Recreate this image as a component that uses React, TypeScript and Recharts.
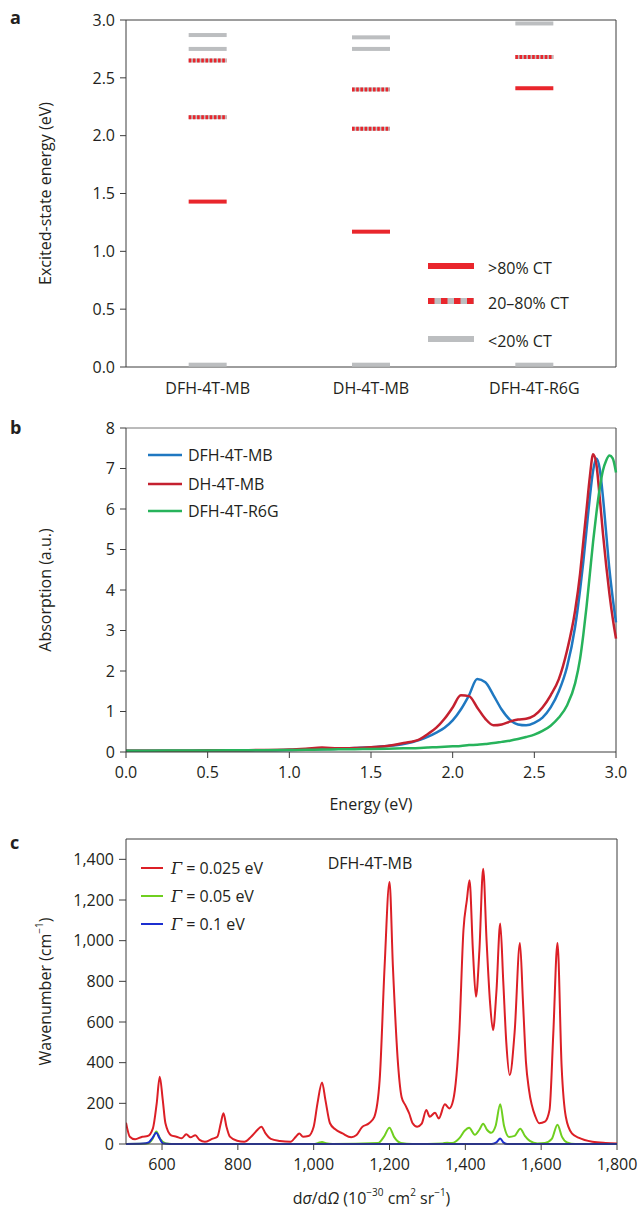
import React from "react";
import {
  ScatterChart,
  Scatter,
  LineChart,
  Line,
  XAxis,
  YAxis,
  ReferenceLine,
  Legend,
} from "recharts";

const FONT = "'Open Sans', 'DejaVu Sans', sans-serif";
const INK = "#231f20";
const AXIS = "#3c3c3c";

// ---- panel a: excited-state levels ----
const compounds = ["DFH-4T-MB", "DH-4T-MB", "DFH-4T-R6G"];
const highCT = [[1.43], [1.17], [2.41]];
const midCT = [[2.16, 2.65], [2.06, 2.4], [2.68]];
const lowCT = [[0.02, 2.75, 2.87], [0.02, 2.75, 2.85], [0.02, 2.97]];
const levelTicks = [0, 0.5, 1.0, 1.5, 2.0, 2.5, 3.0];
const ctLabels = [">80% CT", "20\u201380% CT", "<20% CT"];

const CT_RED = "#e9262c";
const CT_GREY = "#bcbec0";

// ---- panel b: absorption ----
const energy = [
  0, 0.25, 0.5, 0.75, 1.0, 1.1, 1.2, 1.3, 1.4, 1.5, 1.6, 1.7, 1.8, 1.85, 1.9,
  1.95, 2.0, 2.05, 2.1, 2.15, 2.2, 2.25, 2.3, 2.35, 2.4, 2.45, 2.5, 2.55, 2.6,
  2.65, 2.7, 2.75, 2.78, 2.8, 2.82, 2.84, 2.86, 2.88, 2.9, 2.92, 2.94, 2.96,
  2.98, 3.0,
];
const absDFH = [
  0.03, 0.03, 0.035, 0.04, 0.05, 0.06, 0.07, 0.08, 0.1, 0.12, 0.15, 0.2, 0.3,
  0.38, 0.48, 0.6, 0.78, 1.05, 1.4, 1.8, 1.72, 1.4, 1.05, 0.8, 0.68, 0.66,
  0.72, 0.85, 1.1, 1.5, 2.1, 3.1, 4.0, 4.7, 5.5, 6.3, 6.95, 7.25, 7.0, 6.3,
  5.4, 4.5, 3.8, 3.2,
];
const absDH = [
  0.03, 0.03, 0.035, 0.045, 0.06, 0.08, 0.11, 0.09, 0.1, 0.12, 0.15, 0.22,
  0.32, 0.45, 0.6, 0.82, 1.1, 1.4, 1.38, 1.1, 0.82, 0.66, 0.68, 0.75, 0.8,
  0.82, 0.9, 1.1, 1.4, 1.8, 2.5, 3.5, 4.4, 5.2, 6.0, 6.8, 7.35, 7.1, 6.3, 5.4,
  4.6, 3.9, 3.3, 2.8,
];
const absR6G = [
  0.03, 0.035, 0.04, 0.045, 0.05, 0.055, 0.06, 0.065, 0.07, 0.075, 0.08, 0.09,
  0.1, 0.11, 0.12, 0.13, 0.14, 0.15, 0.17, 0.18, 0.2, 0.22, 0.25, 0.28, 0.32,
  0.37, 0.43, 0.52, 0.65, 0.85, 1.15, 1.7, 2.3, 2.9, 3.6, 4.4, 5.2, 5.9, 6.5,
  6.95, 7.2, 7.32, 7.25, 6.9,
];
const absNames = ["DFH-4T-MB", "DH-4T-MB", "DFH-4T-R6G"];
const absColors = ["#1f78c1", "#c4202f", "#27b35b"];

// ---- panel c: Raman ----
const wnRed = [
  505, 515, 529, 548, 562, 576, 586, 594, 602, 609, 624, 638, 652, 664, 675,
  688, 699, 713, 732, 746, 755, 762, 770, 779, 798, 817, 835, 850, 862, 873,
  887, 911, 939, 953, 962, 972, 986, 1000, 1010, 1022, 1031, 1043, 1057, 1076,
  1099, 1113, 1127, 1146, 1160, 1174, 1187, 1200, 1209, 1223, 1232, 1242,
  1252, 1261, 1273, 1285, 1297, 1306, 1320, 1330, 1346, 1358, 1368, 1384,
  1395, 1404, 1411, 1420, 1428, 1437, 1447, 1456, 1465, 1473, 1482, 1492,
  1500, 1508, 1517, 1530, 1544, 1552, 1560, 1568, 1585, 1595, 1610, 1622,
  1632, 1643, 1654, 1665, 1681, 1700, 1735, 1770, 1800,
];
const ramanRed = [
  105, 36, 23, 36, 39, 77, 200, 331, 216, 102, 43, 36, 28, 48, 33, 43, 20, 11,
  25, 36, 102, 151, 85, 36, 16, 11, 36, 66, 85, 52, 25, 15, 11, 36, 52, 36, 39,
  85, 200, 303, 216, 102, 72, 52, 33, 44, 82, 102, 134, 314, 871, 1289, 871,
  380, 230, 190, 150, 102, 85, 100, 167, 134, 154, 126, 195, 175, 216, 544,
  1051, 1199, 1297, 950, 724, 950, 1354, 1000, 700, 560, 750, 1084, 800, 500,
  339, 550, 989, 700, 400, 265, 134, 102, 110, 167, 544, 989, 380, 134, 52, 30,
  11, 5, 3,
];
const wnGreen = [
  505, 560, 575, 585, 595, 610, 640, 1000, 1012, 1022, 1032, 1050, 1170, 1185,
  1200, 1212, 1230, 1260, 1340, 1352, 1365, 1385, 1398, 1410, 1425, 1437,
  1447, 1457, 1468, 1480, 1492, 1502, 1515, 1530, 1545, 1557, 1570, 1590,
  1610, 1628, 1643, 1655, 1668, 1690, 1800,
];
const ramanGreen = [
  0, 2, 25, 62, 25, 3, 0, 0, 5, 10, 4, 0, 5, 35, 80, 35, 5, 0, 3, 6, 5, 30, 65,
  80, 45, 70, 100, 70, 55, 90, 195, 90, 35, 40, 75, 40, 15, 3, 5, 25, 95, 35,
  8, 0, 0,
];
const wnBlue = [505, 550, 565, 575, 585, 593, 603, 620, 1470, 1482, 1492, 1500, 1510, 1800];
const ramanBlue = [0, 2, 8, 30, 55, 30, 2, 0, 0, 8, 27, 8, 0, 0];
const gammaLabels = ["0.025 eV", "0.05 eV", "0.1 eV"];
const gammaColors = ["#dc1f26", "#6fcf1f", "#1c2fd0"];
const ramanXTicks = [600, 800, 1000, 1200, 1400, 1600, 1800];
const ramanYTicks = [0, 200, 400, 600, 800, 1000, 1200, 1400];

const toPoints = (levels: number[][]) =>
  levels.flatMap((ys, i) => ys.map((y) => ({ x: i + 0.5, y })));
const zip = (xs: number[], ys: number[]) => xs.map((x, i) => ({ x, y: ys[i] }));

const absData = energy.map((e, i) => ({
  e,
  dfh: absDFH[i],
  dh: absDH[i],
  r6g: absR6G[i],
}));

const tickStyle = { fontSize: 16, fill: INK, fontFamily: FONT };
const LEVEL_W = 38;

const solidLevel = (color: string) => (p: any) =>
  <rect x={p.cx - LEVEL_W / 2} y={p.cy - 2} width={LEVEL_W} height={4} fill={color} />;

const mixedLevel = (p: any) => (
  <g>
    <rect x={p.cx - LEVEL_W / 2} y={p.cy - 2} width={LEVEL_W} height={4} fill={CT_GREY} />
    <line
      x1={p.cx - LEVEL_W / 2}
      x2={p.cx + LEVEL_W / 2}
      y1={p.cy}
      y2={p.cy}
      stroke={CT_RED}
      strokeWidth={4}
      strokeDasharray="2.6 1.6"
    />
  </g>
);

function YTitle(props: any) {
  const vb = props.viewBox || { y: 0, height: 0 };
  const cy = vb.y + vb.height / 2;
  return (
    <text
      x={45}
      y={cy}
      transform={`rotate(-90 45 ${cy})`}
      textAnchor="middle"
      dominantBaseline="central"
      fontSize={16}
      fill={INK}
      fontFamily={FONT}
    >
      {props.children}
    </text>
  );
}

function XTitle(props: any) {
  const vb = props.viewBox || { x: 0, width: 0, y: 0 };
  const cx = vb.x + vb.width / 2;
  return (
    <text
      x={cx}
      y={vb.y + props.dyTitle}
      textAnchor="middle"
      dominantBaseline="central"
      fontSize={16}
      fill={INK}
      fontFamily={FONT}
    >
      {props.children}
    </text>
  );
}

function CtLegend() {
  const rows = [0, 1, 2];
  const ys = [11, 46, 84];
  return (
    <svg width={200} height={100} style={{ overflow: "visible" }}>
      {rows.map((i) => (
        <g key={i}>
          {i === 1 ? (
            <>
              <rect x={8} y={ys[i] - 3} width={46} height={6} fill={CT_GREY} />
              <line x1={8} x2={54} y1={ys[i]} y2={ys[i]} stroke={CT_RED} strokeWidth={6} strokeDasharray="6.5 6.5" />
            </>
          ) : (
            <rect x={8} y={ys[i] - 3} width={46} height={6} fill={i === 0 ? CT_RED : CT_GREY} />
          )}
          <text x={68} y={ys[i] + 2} dominantBaseline="central" fontSize={16} fill={INK} fontFamily={FONT}>
            {ctLabels[i]}
          </text>
        </g>
      ))}
    </svg>
  );
}

function AbsLegend() {
  const ys = [15, 44, 71];
  return (
    <svg width={200} height={90}>
      {absNames.map((n, i) => (
        <g key={n}>
          <line x1={8} x2={42} y1={ys[i]} y2={ys[i]} stroke={absColors[i]} strokeWidth={2.5} />
          <text x={48} y={ys[i]} dominantBaseline="central" fontSize={16} fill={INK} fontFamily={FONT}>
            {n}
          </text>
        </g>
      ))}
    </svg>
  );
}

function RamanLegend() {
  const ys = [18, 46, 74];
  return (
    <svg width={320} height={90}>
      {gammaLabels.map((g, i) => (
        <g key={g}>
          <line x1={11} x2={33} y1={ys[i]} y2={ys[i]} stroke={gammaColors[i]} strokeWidth={2} />
          <text x={41} y={ys[i]} dominantBaseline="central" fontSize={16} fill={INK} fontFamily={FONT}>
            <tspan fontStyle="italic" fontFamily="'DejaVu Serif', serif">Γ</tspan> = {g}
          </text>
        </g>
      ))}
      <text x={240} y={13} textAnchor="middle" dominantBaseline="central" fontSize={16} fill={INK} fontFamily={FONT}>
        DFH-4T-MB
      </text>
    </svg>
  );
}

const panelLetter = (t: string, top: number) => (
  <div
    style={{
      position: "absolute",
      left: 10,
      top,
      fontFamily: FONT,
      fontWeight: 700,
      fontSize: 18,
      color: INK,
      lineHeight: "20px",
    }}
  >
    {t}
  </div>
);

export default function App() {
  return (
    <div style={{ position: "absolute", left: 0, top: 0, width: 640, height: 1211, background: "#fff" }}>
      {panelLetter("a", 7)}
      {panelLetter("b", 417)}
      {panelLetter("c", 832)}

      <div style={{ position: "absolute", left: 0, top: 0 }}>
        <ScatterChart width={640} height={410} margin={{ top: 20, right: 24, left: 0, bottom: 0 }}>
          <XAxis
            type="number"
            dataKey="x"
            domain={[0, 3]}
            ticks={[0.5, 1.5, 2.5]}
            tickFormatter={(v: number) => compounds[Math.floor(v)]}
            tickLine={false}
            tickSize={6}
            tickMargin={10}
            height={43}
            stroke={AXIS}
            tick={tickStyle}
          />
          <YAxis
            type="number"
            dataKey="y"
            domain={[0, 3]}
            ticks={levelTicks}
            tickFormatter={(v: number) => v.toFixed(1)}
            width={126}
            tickSize={6}
            tickMargin={5}
            stroke={AXIS}
            tick={tickStyle}
            label={<YTitle>Excited-state energy (eV)</YTitle>}
          />
          <ReferenceLine y={3} stroke={AXIS} />
          <ReferenceLine x={3} stroke={AXIS} />
          <Scatter data={toPoints(lowCT)} shape={solidLevel(CT_GREY)} isAnimationActive={false} />
          <Scatter data={toPoints(midCT)} shape={mixedLevel} isAnimationActive={false} />
          <Scatter data={toPoints(highCT)} shape={solidLevel(CT_RED)} isAnimationActive={false} />
          <Legend
            layout="vertical"
            align="center"
            verticalAlign="middle"
            content={<CtLegend />}
            wrapperStyle={{ left: 420, top: 255, width: 200, height: 100 }}
          />
        </ScatterChart>
      </div>

      <div style={{ position: "absolute", left: 0, top: 410 }}>
        <LineChart width={640} height={410} data={absData} margin={{ top: 18, right: 24, left: 0, bottom: 0 }}>
          <XAxis
            type="number"
            dataKey="e"
            domain={[0, 3]}
            ticks={[0, 0.5, 1, 1.5, 2, 2.5, 3]}
            tickFormatter={(v: number) => v.toFixed(1)}
            tickSize={6}
            tickMargin={9}
            height={68}
            stroke={AXIS}
            tick={tickStyle}
            label={<XTitle dyTitle={52}>Energy (eV)</XTitle>}
          />
          <YAxis
            type="number"
            domain={[0, 8]}
            ticks={[0, 1, 2, 3, 4, 5, 6, 7, 8]}
            width={126}
            tickSize={6}
            tickMargin={5}
            stroke={AXIS}
            tick={tickStyle}
            label={<YTitle>Absorption (a.u.)</YTitle>}
          />
          <ReferenceLine y={8} stroke="#777" />
          <ReferenceLine x={3} stroke={AXIS} />
          <Line dataKey="dfh" type="monotone" stroke={absColors[0]} strokeWidth={2.5} dot={false} isAnimationActive={false} />
          <Line dataKey="dh" type="monotone" stroke={absColors[1]} strokeWidth={2.5} dot={false} isAnimationActive={false} />
          <Line dataKey="r6g" type="monotone" stroke={absColors[2]} strokeWidth={2.5} dot={false} isAnimationActive={false} />
          <Legend
            layout="vertical"
            align="center"
            verticalAlign="middle"
            content={<AbsLegend />}
            wrapperStyle={{ left: 140, top: 30, width: 200, height: 90 }}
          />
        </LineChart>
      </div>

      <div style={{ position: "absolute", left: 0, top: 820 }}>
        <LineChart width={640} height={391} margin={{ top: 19, right: 23, left: 0, bottom: 0 }}>
          <XAxis
            type="number"
            dataKey="x"
            domain={[505, 1800]}
            ticks={ramanXTicks}
            tickFormatter={(v: number) => v.toLocaleString("en-US")}
            allowDataOverflow
            tickSize={6}
            tickMargin={9}
            height={67}
            stroke={AXIS}
            tick={tickStyle}
            label={
              <XTitle dyTitle={54}>
                d<tspan fontStyle="italic">σ</tspan>/d<tspan fontStyle="italic">Ω</tspan> (10
                <tspan dy={-6} fontSize={10}>−30</tspan>
                <tspan dy={6}> cm</tspan>
                <tspan dy={-6} fontSize={10}>2</tspan>
                <tspan dy={6}> sr</tspan>
                <tspan dy={-6} fontSize={10}>−1</tspan>
                <tspan dy={6}>)</tspan>
              </XTitle>
            }
          />
          <YAxis
            type="number"
            dataKey="y"
            domain={[0, 1500]}
            ticks={ramanYTicks}
            tickFormatter={(v: number) => v.toLocaleString("en-US")}
            width={126}
            tickSize={7}
            tickMargin={5}
            stroke={AXIS}
            tick={tickStyle}
            label={
              <YTitle>
                Wavenumber (cm<tspan dy={-6} fontSize={10}>−1</tspan>
                <tspan dy={6}>)</tspan>
              </YTitle>
            }
          />
          <ReferenceLine y={1500} stroke={AXIS} />
          <ReferenceLine x={1800} stroke={AXIS} />
          <Line data={zip(wnRed, ramanRed)} dataKey="y" type="monotone" stroke={gammaColors[0]} strokeWidth={2} dot={false} isAnimationActive={false} />
          <Line data={zip(wnGreen, ramanGreen)} dataKey="y" type="monotone" stroke={gammaColors[1]} strokeWidth={2} dot={false} isAnimationActive={false} />
          <Line data={zip(wnBlue, ramanBlue)} dataKey="y" type="monotone" stroke={gammaColors[2]} strokeWidth={2} dot={false} isAnimationActive={false} />
          <Legend
            layout="vertical"
            align="center"
            verticalAlign="middle"
            content={<RamanLegend />}
            wrapperStyle={{ left: 130, top: 30, width: 320, height: 90 }}
          />
        </LineChart>
      </div>
    </div>
  );
}
